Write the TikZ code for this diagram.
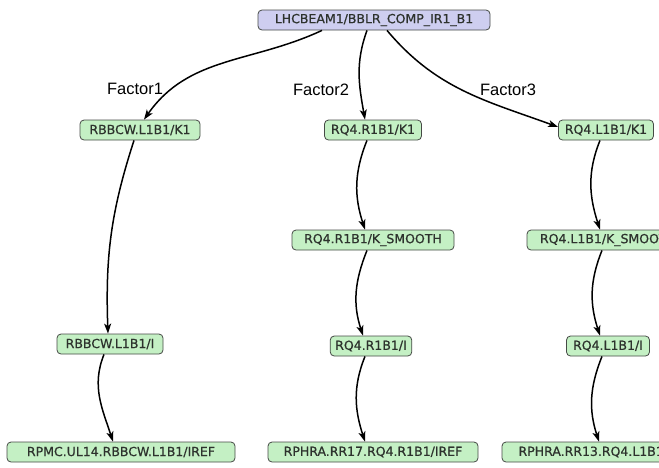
\documentclass[tikz,border=0pt]{standalone}
\usepackage{fontspec}
\setmainfont{DejaVu Sans}
\newfontfamily\nodefont[FakeBold=0.6]{DejaVu Sans}
\newfontfamily\labelfont{Liberation Sans}
\definecolor{lila}{RGB}{206, 206, 240}
\definecolor{verde}{RGB}{196, 240, 196}
\definecolor{borde}{RGB}{70, 74, 70}
\definecolor{tinta}{RGB}{45, 50, 45}
\usepackage{tikz}
\usetikzlibrary{arrows.meta,shapes,calc,positioning}
\tikzstyle{edge}  =[>={Stealth[length=10pt,width=7pt,inset=2.5pt]},
                    line width=1.5pt, black]
\tikzstyle{param} =[rectangle, rounded corners=4pt, draw=borde,
                    fill=verde, line width=0.8pt, minimum height=20pt,
                    inner xsep=5pt, inner ysep=2pt, text=tinta,
                    font=\nodefont\fontsize{12.5}{15}\selectfont]
\tikzstyle{beam}  =[param, fill=lila, minimum width=232pt]
\tikzstyle{factor}=[font=\labelfont\fontsize{16.5}{19}\selectfont]

\begin{document}
\begin{tikzpicture}[x=1pt,y=-1pt]

    \useasboundingbox (0,0) rectangle (659,467);
    \clip (0,0) rectangle (659,467);

    \draw (374,20) node (top) [beam] {LHCBEAM1/BBLR\_COMP\_IR1\_B1};

    % left column
    \draw (140,130) node (bbk) [param,minimum width=120pt] {RBBCW.L1B1/K1};
    \draw (110,344) node (bbi) [param,minimum width=106pt] {RBBCW.L1B1/I};
    \draw (121,452) node (bbref) [param,minimum width=228pt] {RPMC.UL14.RBBCW.L1B1/IREF};

    % middle column
    \draw (373,130) node (rk) [param,minimum width=97pt] {RQ4.R1B1/K1};
    \draw (373,240) node (rs) [param,minimum width=162pt] {RQ4.R1B1/K\_SMOOTH};
    \draw (371,346) node (ri) [param,minimum width=78pt] {RQ4.R1B1/I};
    \draw (373,452) node (rref) [param,minimum width=210pt] {RPHRA.RR17.RQ4.R1B1/IREF};

    % right column
    \draw (606,130) node (lk) [param,minimum width=95pt] {RQ4.L1B1/K1};
    \draw (608,240) node (ls) [param,minimum width=162pt] {RQ4.L1B1/K\_SMOOTH};
    \draw (608,346) node (li) [param,minimum width=83pt] {RQ4.L1B1/I};
    \draw (607,452) node (lref) [param,minimum width=210pt] {RPHRA.RR13.RQ4.L1B1/IREF};

    \draw (135,89) node (f1) [factor] {Factor1};
    \draw (321,90) node (f2) [factor] {Factor2};
    \draw (508,90) node (f3) [factor] {Factor3};

    \draw [edge,->] ([xshift=-52pt]top.south) to[out=205,in=55] ([xshift=4pt]bbk.north);
    \draw [edge,->] ([xshift=-7pt]top.south) to[out=250,in=100] ([xshift=-8pt]rk.north);
    \draw [edge,->] ([xshift=13pt]top.south) to[out=-50,in=160] ([yshift=3pt]lk.west);

    \draw [edge,->] ([xshift=-6pt]bbk.south) to[out=-108,in=92] ([xshift=-2pt]bbi.north);
    \foreach \i/\j in {bbi/bbref,rk/rs,rs/ri,ri/rref,lk/ls,ls/li,li/lref}
        \draw [edge,->] ([xshift=-6pt]\i.south) to[out=-112,in=108] ([xshift=-8pt]\j.north);

\end{tikzpicture}
\end{document}
